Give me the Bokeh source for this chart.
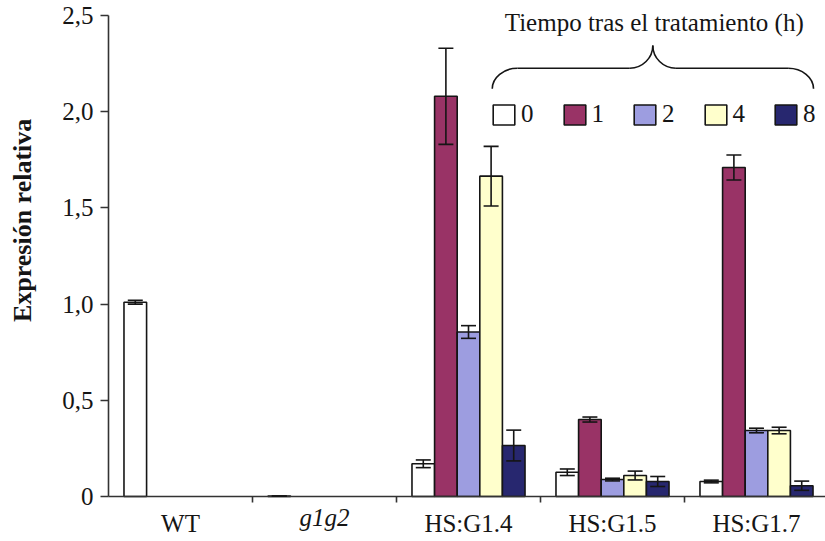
import math

from bokeh.embed import file_html
from bokeh.models import (ColumnDataSource, FixedTicker, Label, Legend,
                          LegendItem, LinearAxis, Range1d, TeeHead, Whisker)
from bokeh.plotting import figure
from bokeh.resources import INLINE

# ---- data -----------------------------------------------------------------
groups = ["WT", "g1g2", "HS:G1.4", "HS:G1.5", "HS:G1.7"]
italic_groups = ["g1g2"]
times = ["0", "1", "2", "4", "8"]
nan = math.nan

# relative expression per time point (h), one entry per genotype
expr_0 = [1.01, 0.002, 0.17, 0.126, 0.078]
expr_1 = [nan, nan, 2.08, 0.40, 1.71]
expr_2 = [nan, nan, 0.855, 0.088, 0.343]
expr_4 = [nan, nan, 1.665, 0.109, 0.343]
expr_8 = [nan, nan, 0.265, 0.078, 0.056]

# standard error of each bar
err_0 = [0.01, 0.0, 0.02, 0.017, 0.007]
err_1 = [nan, nan, 0.25, 0.013, 0.065]
err_2 = [nan, nan, 0.033, 0.007, 0.012]
err_4 = [nan, nan, 0.155, 0.023, 0.017]
err_8 = [nan, nan, 0.08, 0.026, 0.024]

y_ticks = [0, 0.5, 1.0, 1.5, 2.0, 2.5]
y_tick_labels = ["0", "0,5", "1,0", "1,5", "2,0", "2,5"]

series = [expr_0, expr_1, expr_2, expr_4, expr_8]
errors = [err_0, err_1, err_2, err_4, err_8]
colors = ["#ffffff", "#993366", "#9d9de0", "#ffffcc", "#27276f"]

FONT = "Liberation Serif"
FS = "25px"
INK = "#151515"
AXIS = "#333333"

# ---- figure ---------------------------------------------------------------
# The frame fills the whole canvas; both axes are pinned at zero so that the
# group names, the heading and the rotated axis title are never clipped.
W, H = 825, 541
X0_PX, Y0_PX = 108, 496          # where the axes cross, in canvas pixels
PX_PER_GROUP = 144
PX_PER_UNIT = 481 / 2.5

p = figure(
    width=W, height=H, frame_width=W, frame_height=H,
    min_border=0, min_border_left=0, min_border_right=0,
    min_border_top=0, min_border_bottom=0,
    x_range=Range1d(-X0_PX / PX_PER_GROUP, (W - X0_PX) / PX_PER_GROUP),
    y_range=Range1d(-(H - Y0_PX) / PX_PER_UNIT, Y0_PX / PX_PER_UNIT),
    output_backend="svg", toolbar_location=None,
)
p.outline_line_color = None
p.xgrid.visible = False
p.ygrid.visible = False
p.background_fill_color = "white"
p.border_fill_color = "white"

bar_w = 0.157
legend_items = []
for k, (vals, errs, col, t) in enumerate(zip(series, errors, colors, times)):
    xs, tops, ups, lows = [], [], [], []
    for g, (v, e) in enumerate(zip(vals, errs)):
        if math.isnan(v):
            continue
        xs.append(g + 0.5 + (k - 2) * bar_w)
        tops.append(v)
        ups.append(v + e)
        lows.append(v - e)
    src = ColumnDataSource(dict(x=xs, top=tops, upper=ups, lower=lows))
    r = p.vbar(x="x", top="top", width=bar_w, bottom=0, source=src,
               fill_color=col, line_color=INK, line_width=1.6)
    legend_items.append(LegendItem(label=t, renderers=[r]))
    wh = Whisker(base="x", upper="upper", lower="lower", source=src,
                 level="overlay", line_color=INK, line_width=1.6,
                 upper_head=TeeHead(size=15, line_width=1.6, line_color=INK),
                 lower_head=TeeHead(size=15, line_width=1.6, line_color=INK))
    p.add_layout(wh)

# ---- axes -----------------------------------------------------------------
yax = p.yaxis[0]
yax.fixed_location = 0
yax.bounds = (0, 2.5)
yax.ticker = FixedTicker(ticks=y_ticks)
yax.major_label_overrides = {float(t): s for t, s in zip(y_ticks, y_tick_labels)}
yax.minor_tick_line_color = None
yax.major_tick_out = 8
yax.major_tick_in = 0
yax.major_label_standoff = 7
yax.major_label_text_font = FONT
yax.major_label_text_font_size = FS
yax.major_label_text_color = INK
yax.axis_line_width = 1.6
yax.axis_line_color = AXIS
yax.major_tick_line_width = 1.6
yax.major_tick_line_color = AXIS

centers = [g + 0.5 for g in range(len(groups))]
xax = p.xaxis[0]
xax.fixed_location = 0
xax.bounds = (0, len(groups))
xax.ticker = FixedTicker(ticks=centers, minor_ticks=list(range(1, len(groups))))
xax.major_label_overrides = {c: ("" if g in italic_groups else g)
                             for c, g in zip(centers, groups)}
xax.major_tick_out = 0
xax.major_tick_in = 0
xax.minor_tick_out = 6
xax.minor_tick_in = 0
xax.minor_tick_line_width = 1.6
xax.minor_tick_line_color = AXIS
xax.axis_line_width = 1.6
xax.axis_line_color = AXIS
xax.major_label_standoff = 7
xax.major_label_text_font = FONT
xax.major_label_text_font_size = FS
xax.major_label_text_color = INK

# italic genotype names on a second axis pinned to the same baseline
xax_it = LinearAxis(fixed_location=0, bounds=(0, len(groups)),
                    ticker=FixedTicker(ticks=[c for c, g in zip(centers, groups)
                                              if g in italic_groups],
                                       minor_ticks=[]),
                    major_label_overrides={c: g for c, g in zip(centers, groups)
                                           if g in italic_groups},
                    axis_line_color=None, major_tick_line_color=None,
                    minor_tick_line_color=None, major_tick_out=0,
                    major_label_standoff=7,
                    major_label_text_font=FONT, major_label_text_font_size=FS,
                    major_label_text_font_style="italic",
                    major_label_text_color=INK)
p.add_layout(xax_it, "below")

# rotated y-axis title
p.add_layout(Label(x=(22 - X0_PX) / PX_PER_GROUP, y=1.435,
                   text="Expresión relativa", angle=math.pi / 2,
                   text_align="center", text_baseline="middle",
                   text_font=FONT, text_font_size="26px",
                   text_font_style="bold", text_color=INK))

# ---- legend with brace and heading -----------------------------------------
legend = Legend(items=legend_items, orientation="horizontal",
                location=(490, 413), padding=0, margin=0, spacing=27,
                glyph_width=27, glyph_height=25, label_standoff=4,
                label_width=12, label_text_font=FONT, label_text_font_size=FS,
                label_text_color=INK, border_line_color=None,
                background_fill_alpha=0)
p.add_layout(legend)

p.add_layout(Label(x=3.79, y=2.462, text="Tiempo tras el tratamiento (h)",
                   text_align="center", text_baseline="middle",
                   text_font=FONT, text_font_size=FS, text_color=INK))

# curly brace above the legend, built from cubic Bézier pieces
xl, xlc, xtl, xt, xtr, xrc, xr = 2.665, 2.840, 3.62, 3.78, 3.94, 4.72, 4.896
ye, yh, yt = 2.119, 2.226, 2.344
k = 0.55
bz = dict(
    x0=[xl, xtl, xt, xr],
    y0=[ye, yh, yt, ye],
    x1=[xlc, xt, xtr, xrc],
    y1=[yh, yt, yh, yh],
    cx0=[xl, xtl + k * (xt - xtl), xt, xr],
    cy0=[ye + k * (yh - ye), yh, yh + (1 - k) * (yt - yh), ye + k * (yh - ye)],
    cx1=[xlc - k * (xlc - xl), xt, xtr - k * (xtr - xt), xrc + k * (xr - xrc)],
    cy1=[yh, yh + (1 - k) * (yt - yh), yh, yh],
)
p.bezier(source=ColumnDataSource(bz), x0="x0", y0="y0", x1="x1", y1="y1",
         cx0="cx0", cy0="cy0", cx1="cx1", cy1="cy1",
         line_color=INK, line_width=1.6)
p.segment(x0=[xlc, xtr], y0=[yh, yh], x1=[xtl, xrc], y1=[yh, yh],
          line_color=INK, line_width=1.6)

open("out.html", "w").write(file_html(p, INLINE))
